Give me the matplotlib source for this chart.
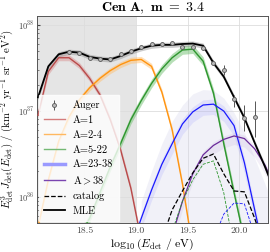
import numpy as np
import matplotlib
matplotlib.use("Agg")
import matplotlib.pyplot as plt
from matplotlib.lines import Line2D

plt.rcParams['font.family'] = 'cmr10'
plt.rcParams['mathtext.fontset'] = 'cm'
plt.rcParams['axes.formatter.use_mathtext'] = True

# Auger data: log10(E) and log10(E^3 J) with asymmetric errors (dex)
auger_lg = [18.35, 18.45, 18.55, 18.65, 18.75, 18.85, 18.95, 19.05, 19.15, 19.25,
            19.35, 19.45, 19.55, 19.65, 19.75, 19.85, 19.95, 20.05, 20.15]
auger_logflux = [37.69, 37.68, 37.62, 37.61, 37.60, 37.66, 37.70, 37.74, 37.78, 37.78,
                 37.79, 37.75, 37.75, 37.73, 37.56, 37.48, 37.14, 36.92, 36.93]
auger_up = [0.01, 0.01, 0.01, 0.01, 0.01, 0.01, 0.01, 0.01, 0.01, 0.01,
            0.01, 0.015, 0.015, 0.02, 0.03, 0.05, 0.05, 0.155, 0.19]
auger_lo = [0.01, 0.01, 0.01, 0.01, 0.01, 0.01, 0.01, 0.01, 0.01, 0.01,
            0.01, 0.015, 0.015, 0.02, 0.03, 0.06, 0.09, 0.155, 0.23]

# model components (log10 flux on a 0.1 grid)
red_lg = [18.05, 18.15, 18.25, 18.35, 18.45, 18.55, 18.65, 18.75, 18.85, 18.95, 19.05]
red_flux = [36.95, 37.46, 37.62, 37.62, 37.53, 37.38, 37.19, 36.90, 36.55, 36.10, 35.50]

orange_lg = [18.05, 18.15, 18.25, 18.35, 18.45, 18.55, 18.65, 18.75, 18.85, 18.95,
             19.05, 19.15, 19.25, 19.35, 19.45, 19.55]
orange_flux = [35.65, 36.20, 36.65, 36.93, 37.13, 37.27, 37.38, 37.47, 37.54, 37.59,
               37.60, 37.52, 37.22, 36.78, 36.15, 35.40]

green_lg = [18.45, 18.55, 18.65, 18.75, 18.85, 18.95, 19.05, 19.15, 19.25, 19.35,
            19.45, 19.55, 19.65, 19.75, 19.85, 19.95, 20.05]
green_flux = [35.55, 35.75, 36.05, 36.35, 36.62, 36.90, 37.12, 37.32, 37.49, 37.62,
              37.71, 37.72, 37.58, 37.21, 36.62, 36.05, 35.50]

blue_lg = [18.95, 19.05, 19.15, 19.25, 19.35, 19.45, 19.55, 19.65, 19.75, 19.85,
           19.95, 20.05, 20.15, 20.25]
blue_flux = [35.40, 35.75, 36.08, 36.38, 36.62, 36.85, 36.99, 37.07, 37.08, 37.00,
             36.83, 36.40, 35.85, 35.30]

purple_lg = [19.25, 19.35, 19.45, 19.55, 19.65, 19.75, 19.85, 19.95, 20.05, 20.15, 20.25, 20.35]
purple_flux = [35.20, 35.55, 35.95, 36.27, 36.49, 36.60, 36.67, 36.71, 36.68, 36.56, 36.37, 36.10]

cat_lg = [19.15, 19.25, 19.35, 19.45, 19.55, 19.65, 19.75, 19.85, 19.95, 20.05, 20.15, 20.25]
cat_flux = [35.15, 35.50, 35.85, 36.07, 36.28, 36.45, 36.50, 36.27, 36.07, 36.06, 35.75, 35.40]

cat_green_lg = [19.25, 19.35, 19.45, 19.55, 19.65, 19.75, 19.85, 19.95]
cat_green_flux = [35.30, 35.60, 35.95, 36.20, 36.38, 36.42, 36.05, 35.40]

cat_blue_lg = [19.75, 19.85, 19.95, 20.05, 20.15]
cat_blue_flux = [35.50, 35.80, 35.93, 35.92, 35.55]

mle_lg = [18.05, 18.15, 18.25, 18.35, 18.45, 18.55, 18.65, 18.75, 18.85, 18.95,
          19.05, 19.15, 19.25, 19.35, 19.45, 19.55, 19.65, 19.75, 19.85, 19.95,
          20.05, 20.15, 20.25, 20.35]
mle_flux = [37.16, 37.52, 37.66, 37.69, 37.68, 37.63, 37.61, 37.60, 37.64, 37.69,
            37.73, 37.76, 37.77, 37.77, 37.78, 37.785, 37.76, 37.56, 37.40, 37.16,
            36.92, 36.63, 36.35, 36.05]

# upper envelope of the faint posterior sample cloud
cloud_lg = [19.05, 19.15, 19.25, 19.35, 19.45, 19.55, 19.65, 19.75, 19.85, 19.95,
            20.05, 20.15, 20.25, 20.35]
cloud_hi = [35.95, 36.30, 36.62, 36.88, 37.07, 37.20, 37.25, 37.24, 37.15, 36.98,
            36.75, 36.45, 36.15, 35.85]

fig = plt.figure(figsize=(2.7, 2.52), dpi=100)
ax = fig.add_axes([0.137, 0.116, 0.856, 0.822])

ymin, ymax = 10**35.7, 10**38.11
ax.axvspan(17.9, 19.0, color='#e5e5e5', zorder=0, lw=0)

def p(v):
    return 10**np.array(v)

# sample cloud
ax.fill_between(cloud_lg, ymin / 10, p(cloud_hi), color='#d2d2ea', alpha=0.3, lw=0, zorder=1)
ax.fill_between(blue_lg, p(blue_flux) / 10**0.12, p(blue_flux) * 10**0.06,
                color='#9090ff', alpha=0.18, lw=0, zorder=1)
ax.fill_between(purple_lg, p(purple_flux) / 10**0.1, p(purple_flux) * 10**0.04,
                color='#b098d0', alpha=0.15, lw=0, zorder=1)

def band(x, y, c, w, a):
    ax.fill_between(x, p(y) / 10**w, p(y) * 10**w, color=c, alpha=a, lw=0, zorder=2)

band(red_lg, red_flux, '#d88a8a', 0.035, 0.45)
band(orange_lg, orange_flux, '#ffc070', 0.035, 0.5)
band(green_lg, green_flux, '#70c070', 0.05, 0.5)
band(mle_lg, mle_flux, '#909090', 0.03, 0.45)

ax.plot(red_lg, p(red_flux), color='#b94a4a', lw=1.0, zorder=3)
ax.plot(orange_lg, p(orange_flux), color='#ff9410', lw=1.0, zorder=3)
ax.plot(green_lg, p(green_flux), color='#2e962e', lw=1.0, zorder=3)
ax.plot(blue_lg, p(blue_flux), color='#1a1aff', lw=0.9, zorder=3)
ax.plot(purple_lg, p(purple_flux), color='#6a2a9a', lw=0.9, zorder=3)
ax.plot(cat_green_lg, p(cat_green_flux), color='#2e962e', lw=0.6, ls='--', zorder=3)
ax.plot(cat_blue_lg, p(cat_blue_flux), color='#1a1aff', lw=0.6, ls='--', zorder=3)
ax.plot(cat_lg, p(cat_flux), color='black', lw=0.9, ls='--', zorder=4)
ax.plot(mle_lg, p(mle_flux), color='black', lw=1.3, zorder=4)

yv = p(auger_logflux)
yerr = [yv - p(np.array(auger_logflux) - np.array(auger_lo)),
        p(np.array(auger_logflux) + np.array(auger_up)) - yv]
eb = ax.errorbar(auger_lg, yv, yerr=yerr, fmt='o', ms=2.8, color='#555555', mfc='#bbbbbb',
                 mew=0.6, elinewidth=0.7, capsize=0, zorder=5)

ax.set_yscale('log')
ax.set_xlim(18.04, 20.28)
ax.set_ylim(ymin, ymax)
ax.set_xticks([18.5, 19.0, 19.5, 20.0])
ax.set_xticklabels(['18.5', '19.0', '19.5', '20.0'])
ax.grid(True, which='major', color='#dddddd', lw=0.6, zorder=0)
ax.set_axisbelow(True)
ax.tick_params(axis='x', labelsize=7, length=0, pad=3, colors='#444444')
ax.tick_params(axis='y', which='major', labelsize=6, length=2, direction='in', colors='#444444', pad=2)
ax.tick_params(axis='y', which='minor', length=1.5, direction='in', colors='#666666')
for s in ax.spines.values():
    s.set_color('#555555')
    s.set_linewidth(0.7)

ax.set_xlabel(r'$\log_{10}(E_{\rm det}\ /\ {\rm eV})$', fontsize=8.5, labelpad=1)
ax.set_ylabel(r'$E_{\rm det}^3\,J_{\rm det}(E_{\rm det})\ /\ ({\rm km}^{-2}\ {\rm yr}^{-1}\ {\rm sr}^{-1}\ {\rm eV}^2)$',
              fontsize=7.8, labelpad=1)
ax.set_title(r'$\mathbf{Cen\ A},\ \mathbf{m}\ \mathbf{=}\ \mathbf{3.4}$', fontsize=10, pad=3)

handles = [
    eb,
    Line2D([], [], color='#d47c7c', lw=1.0),
    Line2D([], [], color='#ffb860', lw=1.0),
    Line2D([], [], color='#74b874', lw=1.0),
    Line2D([], [], color='#9a9aff', lw=2.5),
    Line2D([], [], color='#7a45b0', lw=1.0),
    Line2D([], [], color='black', lw=0.9, ls='--'),
    Line2D([], [], color='black', lw=1.3),
]
labels = ['Auger', 'A=1', 'A=2-4', 'A=5-22', 'A=23-38', r'A${>}$38', 'catalog', 'MLE']
leg = ax.legend(handles, labels, loc='lower left', fontsize=7.5, frameon=True,
                framealpha=0.8, edgecolor='white', fancybox=False,
                handlelength=2.0, labelspacing=0.5, borderaxespad=0.15,
                handletextpad=0.8, borderpad=0.5)
leg.set_zorder(10)

fig.savefig('out.png', dpi=100)
